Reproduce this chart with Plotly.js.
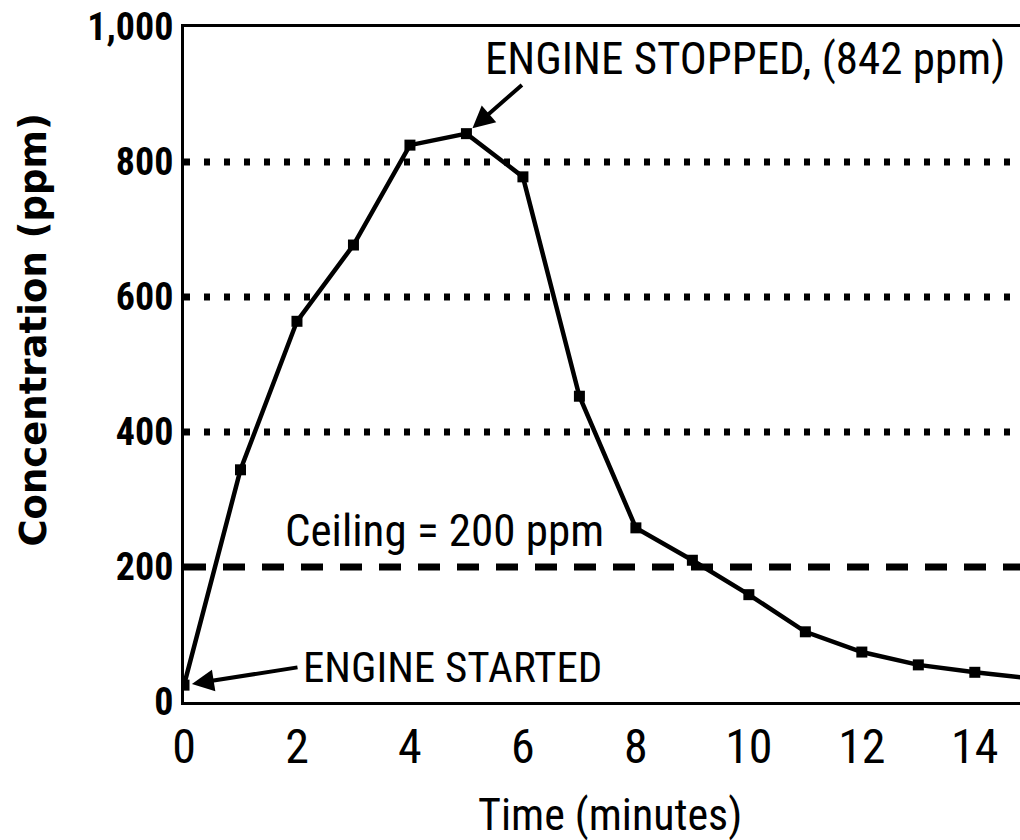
<!DOCTYPE html>
<html>
<head>
<meta charset="utf-8">
<script src="https://cdn.plot.ly/plotly-3.0.1.min.js"></script>
<style>html,body{margin:0;padding:0;background:#fff;}#chart{width:1020px;height:840px;}</style>
</head>
<body>
<div id="chart"></div>
<script>
// ---- data ----
const timeMinutes = [0, 1, 2, 3, 4, 5, 6, 7, 8, 9, 10, 11, 12, 13, 14, 15];
const concentrationPpm = [25, 344, 564, 677, 825, 842, 778, 453, 258, 210, 159, 104, 74, 55, 44, 35];
const xTickValues = [0, 2, 4, 6, 8, 10, 12, 14];
const xTickLabels = ['0', '2', '4', '6', '8', '10', '12', '14'];
const yTickValues = [0, 200, 400, 600, 800, 1000];
const yTickLabels = ['0', '200', '400', '600', '800', '1,000'];
const dottedLevels = [400, 600, 800];
const ceilingLevel = 200;
const stopIndex = 5;   // engine stopped at peak
const startIndex = 0;  // engine started
const labels = {
  stopped: 'ENGINE STOPPED, (842 ppm)',
  started: 'ENGINE STARTED',
  ceiling: 'Ceiling = 200 ppm',
  xTitle: 'Time (minutes)',
  yTitle: 'Concentration (ppm)'
};

const NF = '"Roboto Condensed", "Liberation Sans Narrow", "DejaVu Sans Condensed", "Liberation Sans", sans-serif';

const traces = [{
  x: timeMinutes, y: concentrationPpm, type: 'scatter', mode: 'lines+markers',
  line: {color: '#000', width: 4.5},
  marker: {symbol: 'square', size: 11, color: '#000'},
  hoverinfo: 'skip', showlegend: false
}];

const shapes = dottedLevels.map(v => ({
  type: 'line', xref: 'paper', x0: 0, x1: 1, yref: 'y', y0: v, y1: v,
  line: {color: '#000', width: 7, dash: '6px,14px'}, layer: 'below'
}));
shapes.push({
  type: 'line', xref: 'paper', x0: 0, x1: 1, yref: 'y', y0: ceilingLevel, y1: ceilingLevel,
  line: {color: '#000', width: 7, dash: '22px,17px'}, layer: 'below'
});

const annotations = [
  {x: 9.93, y: 953, xref: 'x', yref: 'y', text: labels.stopped, showarrow: false,
   font: {family: NF, size: 45, color: '#000'}, xanchor: 'center', yanchor: 'middle'},
  {x: timeMinutes[stopIndex], y: concentrationPpm[stopIndex], xref: 'x', yref: 'y', text: '',
   showarrow: true, ax: 57, ay: -50, arrowhead: 2, arrowsize: 1.1, arrowwidth: 4, arrowcolor: '#000', standoff: 8},
  {x: 4.62, y: 254, xref: 'x', yref: 'y', text: labels.ceiling, showarrow: false,
   font: {family: NF, size: 45, color: '#000'}, xanchor: 'center', yanchor: 'middle'},
  {x: 4.76, y: 52, xref: 'x', yref: 'y', text: labels.started, showarrow: false,
   font: {family: NF, size: 43, color: '#000'}, xanchor: 'center', yanchor: 'middle'},
  {x: timeMinutes[startIndex], y: concentrationPpm[startIndex], xref: 'x', yref: 'y', text: '',
   showarrow: true, ax: 115, ay: -18, arrowhead: 2, arrowsize: 1.1, arrowwidth: 4, arrowcolor: '#000', standoff: 8},
  {x: 0.51, y: -0.167, xref: 'paper', yref: 'paper', text: labels.xTitle, showarrow: false,
   font: {family: NF, size: 44, color: '#000'}, xanchor: 'center', yanchor: 'middle'},
  {x: -0.18, y: 0.551, xref: 'paper', yref: 'paper', text: labels.yTitle, showarrow: false, textangle: -90,
   font: {family: '"DejaVu Sans", sans-serif', size: 37, color: '#000', weight: 'bold'}, xanchor: 'center', yanchor: 'middle'}
];

const layout = {
  width: 1020, height: 840,
  margin: {l: 184, r: 0, t: 27, b: 138, pad: 0},
  paper_bgcolor: '#fff', plot_bgcolor: '#fff',
  showlegend: false,
  xaxis: {
    range: [0, 14.8], tickmode: 'array', tickvals: xTickValues, ticktext: xTickLabels,
    showgrid: false, zeroline: false, showline: true, linecolor: '#000', linewidth: 3, mirror: true,
    ticks: '', ticklabelstandoff: 0,
    tickfont: {family: NF, size: 48, color: '#000'}
  },
  yaxis: {
    range: [0, 1000], tickmode: 'array', tickvals: yTickValues, ticktext: yTickLabels,
    showgrid: false, zeroline: false, showline: true, linecolor: '#000', linewidth: 3,
    ticks: 'inside', ticklen: 4, tickwidth: 3, tickcolor: '#000', ticklabelstandoff: 0,
    tickfont: {family: NF, size: 38, color: '#000', weight: 'bold'}
  },
  shapes: shapes,
  annotations: annotations
};

Plotly.newPlot('chart', traces, layout, {staticPlot: true, displayModeBar: false});
</script>
</body>
</html>
